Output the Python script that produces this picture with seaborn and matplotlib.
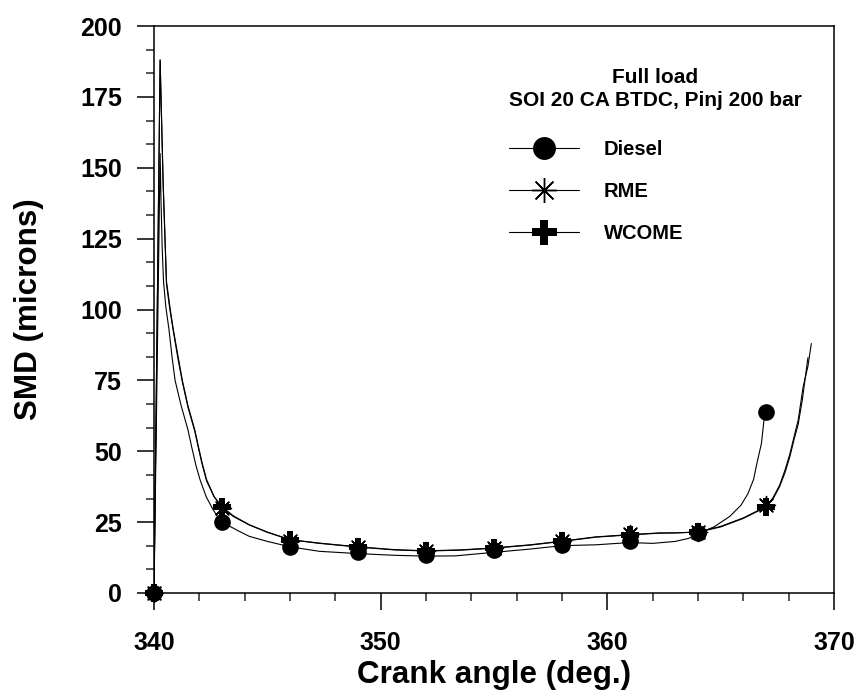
import matplotlib
matplotlib.use("Agg")
import matplotlib.pyplot as plt
from matplotlib.lines import Line2D
from matplotlib.ticker import MultipleLocator
import seaborn as sns

# ---- marker data (every 3 deg CA) ----
marker_angle = [340, 343, 346, 349, 352, 355, 358, 361, 364, 367]
diesel_pts = [0, 25.0, 16.3, 14.5, 13.5, 15.3, 17.0, 18.5, 21.3, 64.0]
rme_pts = [0, 30.0, 18.5, 16.2, 14.8, 16.0, 18.3, 20.8, 21.5, 31.0]
wcome_pts = [0, 30.5, 18.6, 16.3, 14.9, 15.7, 18.3, 20.6, 21.6, 30.5]

# ---- fine curve data ----
diesel_ca = [340.0, 340.27, 340.31, 340.36, 340.42, 340.52, 340.66, 340.8, 340.93, 341.2,
             341.5, 341.66, 341.85, 342.03, 342.3, 342.6, 342.8, 343.0, 343.4, 343.7,
             344.2, 345.0, 346.0, 347.3, 349.0, 350.6, 352.0, 353.3, 354.8, 356.6,
             358.0, 359.5, 361.0, 362.0, 363.0, 363.6, 364.0, 364.7, 365.4, 365.9,
             366.2, 366.45, 366.6, 366.8, 366.95]
diesel_smd = [0, 155, 138, 122, 110, 101, 93, 83, 75, 66,
              57.5, 51.6, 45, 40, 34, 29.5, 27, 25, 23.3, 22,
              20, 18.2, 16.3, 14.7, 13.9, 13.3, 13.0, 13.1, 14.2, 15.5,
              16.7, 17.0, 17.8, 17.5, 18.2, 19.3, 21.0, 23.3, 27, 31,
              35, 40, 45.8, 52.8, 64]

rme_ca = [340.0, 340.27, 340.4, 340.55, 340.7, 340.85, 341.05, 341.25, 341.5, 341.8,
          341.95, 342.12, 342.32, 342.65, 342.85, 343.0, 343.5, 344.2, 345.0, 346.0,
          347.3, 349.0, 350.6, 352.0, 353.5, 355.0, 356.6, 358.0, 359.5, 361.0,
          362.3, 363.0, 364.0, 365.0, 366.0, 367.0, 367.3, 367.6, 367.84, 368.05,
          368.25, 368.42, 368.6, 368.85]
rme_smd = [0, 188, 145, 109, 100, 92.5, 83, 74.5, 65.5, 57,
           51.5, 45.5, 39.5, 34, 31.8, 30.2, 27, 24.0, 21.4, 18.8,
           17.5, 16.2, 15.2, 14.8, 15.1, 15.8, 16.9, 18.2, 19.7, 20.5,
           21.1, 21.2, 21.5, 23.3, 26.3, 30.3, 33, 37.5, 42.5, 48,
           54.5, 59.5, 68, 83]

wcome_ca = [340.0, 340.27, 340.4, 340.55, 340.7, 340.85, 341.05, 341.25, 341.5, 341.8,
            341.95, 342.12, 342.32, 342.65, 342.85, 343.0, 343.5, 344.2, 345.0, 346.0,
            347.3, 349.0, 350.6, 352.0, 353.5, 355.0, 356.6, 358.0, 359.5, 361.0,
            362.3, 363.0, 364.0, 365.0, 366.0, 367.0, 367.3, 367.6, 367.84, 368.05,
            368.25, 368.42, 368.64, 368.85, 369.0]
wcome_smd = [0, 188, 146, 110, 101, 93, 84, 75, 66, 57.5,
             52, 46, 40, 34, 32, 30.5, 27.2, 24.1, 21.5, 18.8,
             17.6, 16.3, 15.3, 14.9, 15.2, 15.9, 17.0, 18.3, 19.8, 20.6,
             21.2, 21.2, 21.5, 23.5, 26.5, 30.5, 33.5, 38, 43.4, 49,
             55.5, 61, 72.8, 80, 88]

series_names = ["Diesel", "RME", "WCOME"]
legend_title = "Full load\nSOI 20 CA BTDC, Pinj 200 bar"

sns.set_style("ticks")
plt.rcParams["font.family"] = ["Liberation Sans", "DejaVu Sans"]
plt.rcParams["font.weight"] = "bold"
plt.rcParams["axes.labelweight"] = "bold"
plt.rcParams["axes.labelcolor"] = "black"
plt.rcParams["text.color"] = "black"

fig = plt.figure(figsize=(8.58, 6.91), dpi=100)
ax = fig.add_axes([154 / 858, (691 - 593) / 691, (834 - 154) / 858, (593 - 26) / 691])

curve_lw = 0.8
for xs, ys in [(diesel_ca, diesel_smd), (rme_ca, rme_smd), (wcome_ca, wcome_smd)]:
    sns.lineplot(x=xs, y=ys, ax=ax, color="black", lw=curve_lw, sort=False,
                 estimator=None)

sns.scatterplot(x=marker_angle, y=diesel_pts, ax=ax, marker="o", s=12 ** 2,
                color="black", edgecolor="black", linewidth=0, zorder=5, clip_on=False)
sns.scatterplot(x=marker_angle, y=rme_pts, ax=ax, marker=(8, 2, 0), s=13 ** 2,
                color="black", edgecolor="black", linewidth=1.0, zorder=6, clip_on=False)
sns.scatterplot(x=marker_angle, y=wcome_pts, ax=ax, marker="P", s=13 ** 2,
                color="black", edgecolor="black", linewidth=0, zorder=7, clip_on=False)

ax.set_xlim(340, 370)
ax.set_ylim(0, 200)
ax.xaxis.set_major_locator(MultipleLocator(10))
ax.xaxis.set_minor_locator(MultipleLocator(2))
ax.yaxis.set_major_locator(MultipleLocator(25))
ax.yaxis.set_minor_locator(MultipleLocator(25 / 3))
ax.tick_params(which="major", direction="out", length=12, width=1.1,
               labelsize=18, colors="black")
ax.tick_params(axis="x", which="major", pad=15)
ax.tick_params(axis="y", which="major", pad=11)
ax.tick_params(which="minor", direction="out", length=5.5, width=1.1)
for lab in ax.get_xticklabels() + ax.get_yticklabels():
    lab.set_fontweight("bold")
for sp in ax.spines.values():
    sp.set_visible(True)
    sp.set_linewidth(1.1)
    sp.set_color("black")

ax.set_xlabel("Crank angle (deg.)", fontsize=22.6, fontweight="bold", labelpad=4,
              color="black")
ax.set_ylabel("SMD (microns)", fontsize=22.6, fontweight="bold", labelpad=26,
              color="black")

handles = [
    Line2D([], [], color="black", lw=curve_lw, marker="o", markersize=16.5,
           markeredgewidth=0),
    Line2D([], [], color="black", lw=curve_lw, marker=(8, 2, 0), markersize=18,
           markeredgewidth=1.0),
    Line2D([], [], color="black", lw=curve_lw, marker="P", markersize=18,
           markeredgewidth=0),
]
leg = ax.legend(handles, series_names, title=legend_title, loc="upper left",
                bbox_to_anchor=((509 - 154) / 680, (593 - 68) / 567),
                frameon=False, borderpad=0, borderaxespad=0,
                prop={"size": 14.5, "weight": "bold"},
                handlelength=3.5, handletextpad=1.2, labelspacing=1.15)
leg.get_title().set_fontsize(15)
leg.get_title().set_fontweight("bold")
leg.get_title().set_multialignment("center")
leg.get_title().set_linespacing(1.3)
leg._legend_box.align = "left"
leg._legend_box.sep = 21

fig.savefig("out.png", dpi=100)
